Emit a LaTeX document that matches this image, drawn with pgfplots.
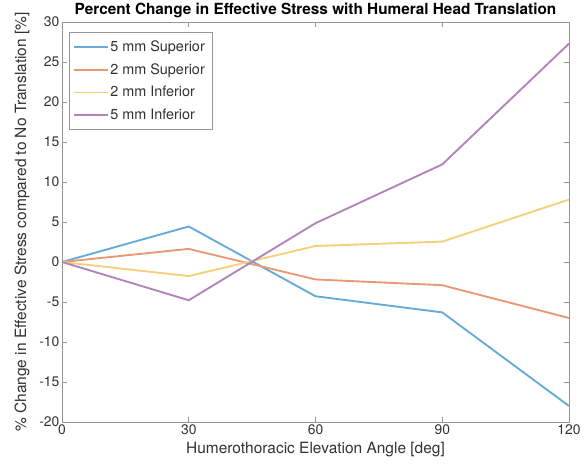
\documentclass[border=0pt]{standalone}
\usepackage{pgfplots}
\pgfplotsset{compat=1.18}
\usepackage{fontspec}
\setmainfont{TeX Gyre Heros}

\definecolor{mblue}{RGB}{102,170,215}
\definecolor{morange}{RGB}{232,152,117}
\definecolor{myellow}{RGB}{244,208,121}
\definecolor{mpurple}{RGB}{178,130,187}
\definecolor{axgray}{RGB}{150,150,150}
\definecolor{txtgray}{RGB}{50,50,50}

\begin{document}
\begin{tikzpicture}[x=1pt,y=1pt]
% page frame: 585 x 468 units of 0.75pt
\path[use as bounding box] (-46.5,-34.5) rectangle (392.25,316.5);
\begin{axis}[
  at={(0,0)}, anchor=south west,
  scale only axis,
  width=380.25pt, height=300pt,
  xmin=0, xmax=120, ymin=-20, ymax=30,
  xtick={0,30,60,90,120},
  ytick={-20,-15,...,30},
  tick align=inside,
  major tick length=3.5pt,
  axis line style={axgray, line width=0.7pt},
  tick style={axgray, line width=0.7pt},
  every tick label/.append style={font=\fontsize{10.4}{12}\selectfont, text=txtgray},
  /pgf/number format/assume math mode=true,
  xticklabel style={yshift=1.5pt},
  yticklabel style={xshift=1.5pt},
  title={\bfseries Percent Change in Effective Stress with Humeral Head Translation},
  title style={font=\fontsize{11.5}{13}\selectfont, text=black, yshift=-6.5pt},
  xlabel={Humerothoracic Elevation Angle [deg]},
  ylabel={\% Change in Effective Stress compared to No Translation [\%]},
  label style={font=\fontsize{11.6}{13}\selectfont, text=txtgray},
  xlabel style={yshift=1pt},
  ylabel style={yshift=0.5pt},
  legend cell align=left,
  legend style={
    at={(0.013,0.975)}, anchor=north west,
    draw=axgray, line width=0.7pt,
    font=\fontsize{10.8}{12}\selectfont, text=txtgray,
    row sep=3.6pt, inner xsep=4pt, inner ysep=4pt,
  },
  % legend sample: a short filled strip in the series colour
  legend image code/.code={%
    \path[#1, draw=none, fill=.] (0pt,-0.7pt) rectangle (25pt,0.7pt);},
]
\addplot[mblue, line width=1.4pt] coordinates {(0,0) (30,4.44) (60,-4.28) (90,-6.3) (120,-18.0)};
\addlegendentry{5 mm Superior}
\addplot[morange, line width=1.4pt] coordinates {(0,0) (30,1.64) (60,-2.18) (90,-2.9) (120,-7.0)};
\addlegendentry{2 mm Superior}
\addplot[myellow, line width=1.4pt] coordinates {(0,0) (30,-1.76) (60,2.0) (90,2.55) (120,7.8)};
\addlegendentry{2 mm Inferior}
\addplot[mpurple, line width=1.4pt] coordinates {(0,0) (30,-4.78) (60,4.85) (90,12.2) (120,27.3)};
\addlegendentry{5 mm Inferior}
\end{axis}
\end{tikzpicture}
\end{document}
